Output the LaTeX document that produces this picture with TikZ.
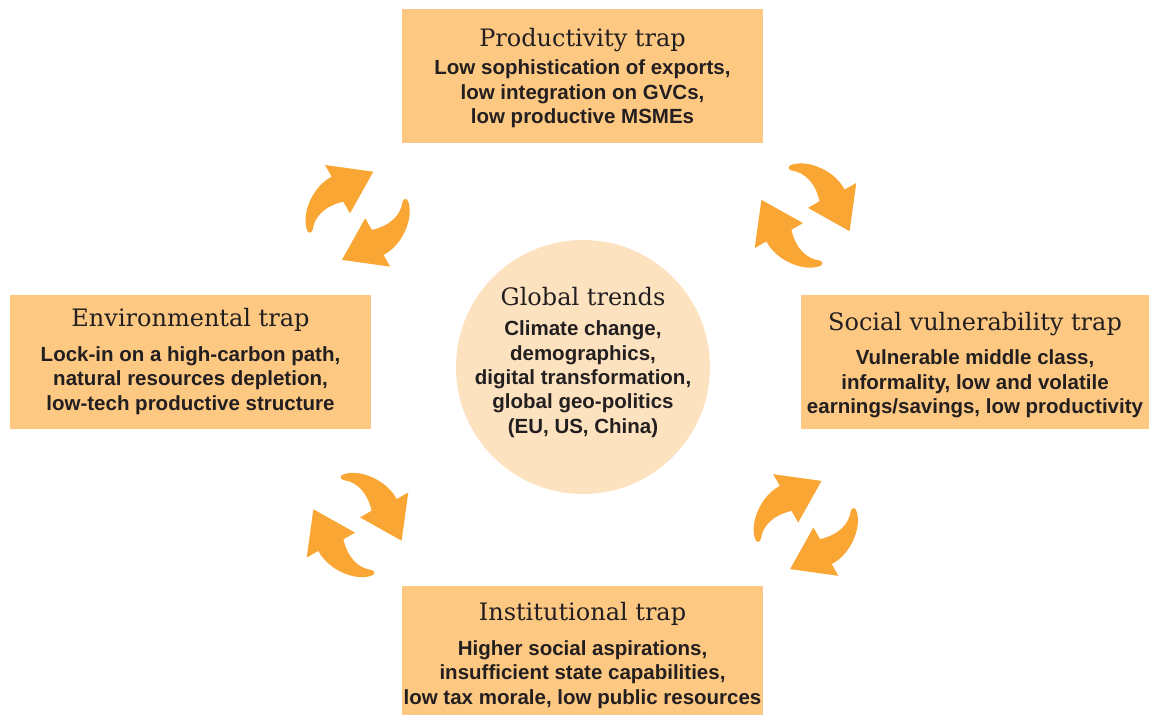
\documentclass[tikz,border=0pt]{standalone}
\usepackage{fontspec}
\setmainfont{DejaVu Serif}
\newfontfamily\bodyfont{Liberation Sans}
\definecolor{boxc}{HTML}{FDC882}
\definecolor{circc}{HTML}{FDE2C0}
\definecolor{arrowc}{HTML}{F9A634}
\definecolor{txtc}{HTML}{231F20}
\newcommand\onearrow[1]{%
  \fill[arrowc,#1] (-51,13) .. controls (-56,-4) and (-44,-30) .. (-25.9,-39.1)
    -- (-32.6,-50.8) -- (15.7,-44.1) -- (-7.6,-2.5) -- (-14.3,-14.1)
    .. controls (-32,-10) and (-43,0) .. (-45,14)
    .. controls (-46,18) and (-50,18) .. cycle;}
\newcommand\arrowpairhere{\onearrow{}\onearrow{rotate=180}}
\tikzset{
  titletext/.style={text=txtc, font=\fontsize{24}{28}\selectfont, inner sep=0pt, anchor=base},
  bodytext/.style={text=txtc, font=\bodyfont\bfseries\fontsize{20.5}{24.3}\selectfont, align=center, inner sep=0pt, anchor=base},
}
\begin{document}
\begin{tikzpicture}[x=1pt,y=-1pt]
\useasboundingbox (0,0) rectangle (1149,715);
% boxes
\fill[boxc] (402,9) rectangle (763,143);
\fill[boxc] (10,295) rectangle (371,429);
\fill[boxc] (801,295) rectangle (1149,429);
\fill[boxc] (402,586) rectangle (763,715);
\fill[circc] (583,367) circle (127);
% productivity
\node[titletext] (pt) at (582.5,46) {Productivity trap};
\node[bodytext] (pb) at (582.5,123.5) {Low sophistication of exports,\\low integration on GVCs,\\low productive MSMEs};
% environmental
\node[titletext] (et) at (190.5,326) {Environmental trap};
\node[bodytext] (eb) at (190.5,410) {Lock-in on a high-carbon path,\\natural resources depletion,\\low-tech productive structure};
% social
\node[titletext] (st) at (975,330) {Social vulnerability trap};
\node[bodytext] (sb) at (975,413.5) {Vulnerable middle class,\\informality, low and volatile\\earnings/savings, low productivity};
% institutional
\node[titletext] (it) at (582.5,620) {Institutional trap};
\node[bodytext] (ib) at (582.5,704) {Higher social aspirations,\\insufficient state capabilities,\\low tax morale, low public resources};
% global
\node[titletext] (gt) at (583,305) {Global trends};
\node[bodytext] (gb) at (583,433) {Climate change,\\demographics,\\digital transformation,\\global geo-politics\\(EU, US, China)};
% arrows
\begin{scope}[shift={(357.6,215.8)}]\arrowpairhere\end{scope}
\begin{scope}[shift={(805.5,215.5)},rotate=-90]\arrowpairhere\end{scope}
\begin{scope}[shift={(357.5,525)},rotate=-90]\arrowpairhere\end{scope}
\begin{scope}[shift={(805.8,525)}]\arrowpairhere\end{scope}
\end{tikzpicture}
\end{document}
